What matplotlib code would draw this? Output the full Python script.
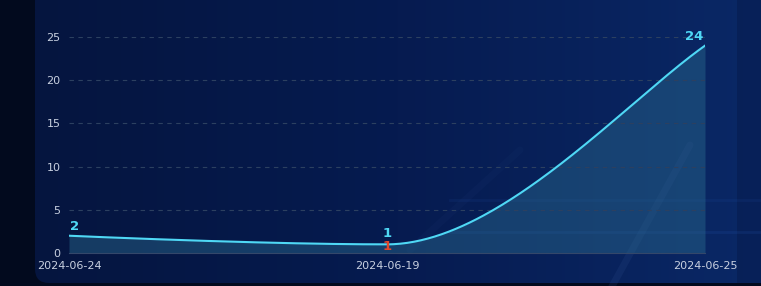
import numpy as np
import matplotlib.pyplot as plt
from matplotlib.patches import FancyBboxPatch, Rectangle
from matplotlib.colors import LinearSegmentedColormap

# data
dates = ["2024-06-24", "2024-06-19", "2024-06-25"]
counts = [2, 1, 24]
marker_dates = ["2024-06-19"]
marker_vals = [1]

W, H = 761, 286
fig = plt.figure(figsize=(W / 100, H / 100), dpi=100)
fig.patch.set_facecolor("#020a1e")

# background panel with a left-to-right gradient
bg = fig.add_axes([0, 0, 1, 1], zorder=0)
bg.set_xlim(0, W)
bg.set_ylim(H, 0)
bg.axis("off")
grad = np.linspace(0, 1, 256)[None, :]
cmap = LinearSegmentedColormap.from_list("bg", ["#05153f", "#061b50", "#0a2866"])
im = bg.imshow(grad, cmap=cmap, extent=[35, W, H - 3, 0], aspect="auto")
clip = FancyBboxPatch((35, -20), W, H - 3 + 20, boxstyle="round,pad=0,rounding_size=14",
                      transform=bg.transData, facecolor="none", edgecolor="none")
bg.add_patch(clip)
im.set_clip_path(clip)
bg.add_patch(Rectangle((737, 0), 30, H - 3, facecolor="#03113a", alpha=0.3, lw=0))
# faint light streaks
bg.plot([610, 690], [290, 145], color="#3a5a9a", lw=5, alpha=0.15, solid_capstyle="round")
bg.plot([410, 520], [250, 150], color="#3a5a9a", lw=5, alpha=0.06, solid_capstyle="round")
bg.plot([450, W], [232, 232], color="#2a60c0", lw=2, alpha=0.15)
bg.plot([450, W], [200, 200], color="#2a60c0", lw=2, alpha=0.1)

ax = fig.add_axes([69 / W, 1 - 253 / H, (705 - 69) / W, (253 - 37) / H], zorder=1)
ax.set_facecolor("none")

# smooth curve: cubic bezier segments, flat tangent at the turning point
x = np.arange(len(counts), dtype=float)
y = np.array(counts, dtype=float)
xs, ys = [], []
for i in range(len(x) - 1):
    p0 = np.array([x[i], y[i]])
    p3 = np.array([x[i + 1], y[i + 1]])
    if i == 0:
        c1 = p0
        c2 = p3 - np.array([0.4, 0.0])
    else:
        c1 = p0 + np.array([0.35, 0.0])
        c2 = p3 - np.array([0.25, 6.5])
    t = np.linspace(0, 1, 150)[:, None]
    b = (1 - t) ** 3 * p0 + 3 * (1 - t) ** 2 * t * c1 + 3 * (1 - t) * t ** 2 * c2 + t ** 3 * p3
    xs.extend(b[:, 0])
    ys.extend(b[:, 1])

ax.fill_between(xs, 0, ys, color="#2a6a8e", alpha=0.45, lw=0)
ax.plot(xs, ys, color="#4fd8f5", lw=1.5)

offsets = [(0.016, 1.05), (0.0, 1.25), (-0.034, 1.05)]
for xi, v, (dx, dy) in zip(x, counts, offsets):
    ax.text(xi + dx, v + dy, str(v), color="#4fd8f5", fontsize=9.5, fontweight="bold",
            ha="center", va="center", clip_on=False)
for d, v in zip(marker_dates, marker_vals):
    ax.text(dates.index(d), v - 0.3, str(v), color="#e0462a", fontsize=9.5, fontweight="bold",
            ha="center", va="center", clip_on=False)

ax.set_xlim(0, len(counts) - 1)
ax.set_ylim(0, 25)
ax.set_xticks(x)
ax.set_xticklabels(dates)
ax.set_yticks([0, 5, 10, 15, 20, 25])
ax.tick_params(colors="#c8d0e0", labelsize=8, length=0)
ax.tick_params(axis="x", pad=6)
ax.tick_params(axis="y", pad=6)
ax.grid(axis="y", color="#2c4060", linestyle=(0, (4, 4)), lw=0.8)
for s in ["top", "right", "left"]:
    ax.spines[s].set_visible(False)
ax.spines["bottom"].set_color("#34476a")

fig.savefig("out.png", dpi=100, facecolor=fig.get_facecolor())
